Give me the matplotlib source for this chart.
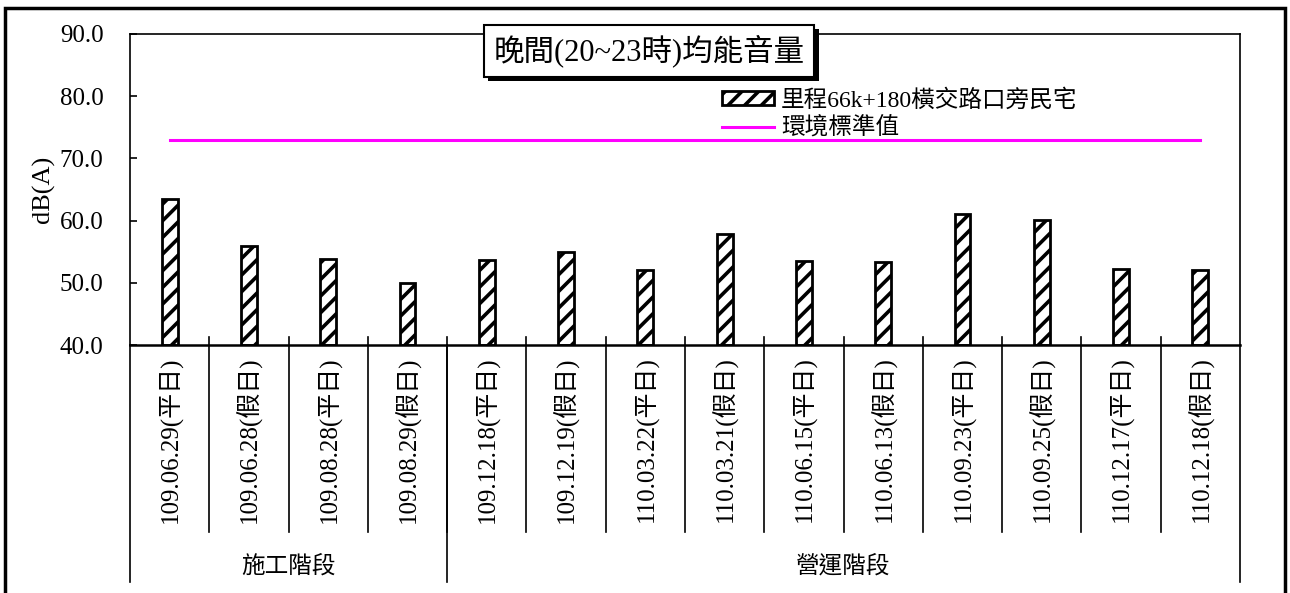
import matplotlib
matplotlib.use('Agg')
import matplotlib.pyplot as plt
import matplotlib.transforms as mtransforms
import matplotlib.patheffects as pe
from matplotlib.patches import Rectangle

plt.rcParams['font.family'] = ['Liberation Serif', 'Noto Sans CJK TC']
plt.rcParams['hatch.linewidth'] = 2.6

dates = ['109.06.29(平日)', '109.06.28(假日)', '109.08.28(平日)', '109.08.29(假日)',
         '109.12.18(平日)', '109.12.19(假日)', '110.03.22(平日)', '110.03.21(假日)',
         '110.06.15(平日)', '110.06.13(假日)', '110.09.23(平日)', '110.09.25(假日)',
         '110.12.17(平日)', '110.12.18(假日)']
leq_night = [63.5, 55.9, 53.9, 50.0, 53.7, 55.0, 52.0, 57.9, 53.5, 53.3, 61.1, 60.1, 52.2, 52.0]
standard = 73.0
phases = ['施工階段', '營運階段']
phase_sizes = [4, 10]

title = '晚間(20~23時)均能音量'
series_name = '里程66k+180橫交路口旁民宅'
std_name = '環境標準值'

fig = plt.figure(figsize=(12.9, 5.93), dpi=100)
ax = fig.add_axes([130 / 1290, 1 - 345 / 593, 1110 / 1290, 311 / 593])

x = list(range(len(dates)))
bars = ax.bar(x, [v - 40 for v in leq_night], bottom=40, width=0.2, color='white',
              edgecolor='black', linewidth=2.0, hatch='//', label=series_name)
line, = ax.plot([x[0], x[-1]], [standard, standard], color='#FF00FF', linewidth=2.2,
                label=std_name)

ax.set_xlim(-0.5, len(dates) - 0.5)
ax.set_ylim(40, 90)
yt = [40, 50, 60, 70, 80, 90]
ax.set_yticks(yt)
ax.set_yticklabels([f'{v:.1f}' for v in yt], fontsize=18)
ax.tick_params(axis='y', direction='in', length=5, width=1.2, pad=19)
ax.set_xticks([])
ax.set_ylabel('dB(A)', fontsize=19)
ax.yaxis.set_label_coords(-0.068, 0.5)
for s in ax.spines.values():
    s.set_linewidth(1.2)
ax.spines['bottom'].set_linewidth(1.8)

# category table under the axis
tr = mtransforms.blended_transform_factory(ax.transData, ax.transAxes)
for i in range(1, len(dates)):
    ax.plot([i - 0.5, i - 0.5], [0.026, -0.601], color='black', lw=1.2,
            transform=tr, clip_on=False)
edges = [-0.5]
for n in phase_sizes:
    edges.append(edges[-1] + n)
for e in edges:
    ax.plot([e, e], [0, -0.762], color='black', lw=1.2, transform=tr, clip_on=False)
for i, d in enumerate(dates):
    ax.text(i, -0.036, d, rotation=90, ha='center', va='top', fontsize=18,
            transform=tr)
for k, p in enumerate(phases):
    ax.text((edges[k] + edges[k + 1]) / 2, -0.712, p, ha='center', va='center',
            fontsize=17, transform=tr)

# title with shadow box
t = fig.text(649 / 1290, 1 - 51 / 593, title, ha='center', va='center', fontsize=22,
             bbox=dict(boxstyle='square,pad=0.32', facecolor='white', edgecolor='black', lw=1.5))
t.get_bbox_patch().set_path_effects([
    pe.SimplePatchShadow(offset=(3, -3), shadow_rgbFace='black', alpha=1.0),
    pe.Normal()])

ax.legend([bars, line], [series_name, std_name], loc='upper left',
          bbox_to_anchor=(722 / 1290, 1 - 89 / 593),
          bbox_transform=fig.transFigure, frameon=False, fontsize=17,
          handlelength=2.2, handleheight=0.55, handletextpad=0.3,
          labelspacing=0.22, borderpad=0, borderaxespad=0)

# outer frame
fig.patches.append(Rectangle((5 / 1290, -0.05), 1280 / 1290, 1.05 - 8 / 593,
                             transform=fig.transFigure, fill=False,
                             edgecolor='black', linewidth=2.5, figure=fig))

fig.savefig('out.png', dpi=100)
